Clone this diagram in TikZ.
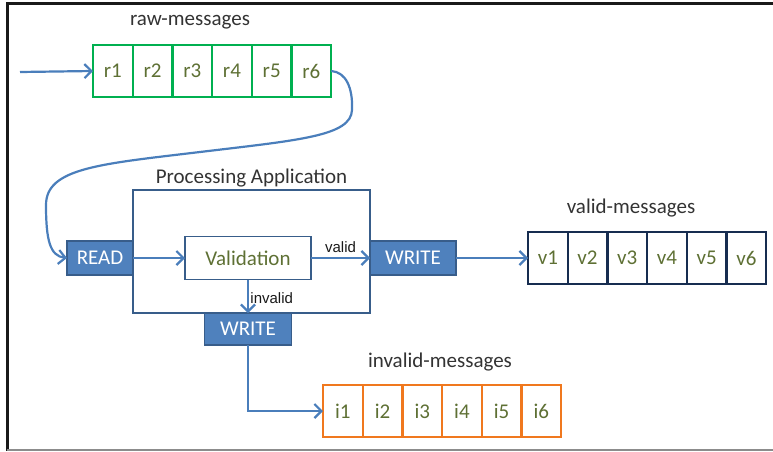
\documentclass[tikz,border=0pt]{standalone}
\usepackage{fontspec}
\setmainfont{Carlito}
\newfontfamily\labelfont{Liberation Sans}
\usepackage{tikz}
\usetikzlibrary{arrows.meta}
\usetikzlibrary{positioning}

\definecolor{rawgreen}{RGB}{0,176,80}
\definecolor{validnavy}{RGB}{23,45,80}
\definecolor{invorange}{RGB}{240,120,30}
\definecolor{cellolive}{RGB}{94,112,52}
\definecolor{flowblue}{RGB}{74,126,187}
\definecolor{stepfill}{RGB}{79,129,189}
\definecolor{stepedge}{RGB}{56,93,138}

\begin{document}
\begin{tikzpicture}[x=1pt, y=-1pt, node distance=4pt]
        \tikzstyle{cell} = [draw, line width=2.2pt, outer sep=0pt, minimum width=39.7pt, minimum height=52pt, inner sep=0pt, text=cellolive, font=\fontsize{21}{25}\selectfont];
        \tikzstyle{title} = [font=\fontsize{21}{25}\selectfont, text=black!80];
        \tikzstyle{stepbox} = [draw=stepedge, fill=stepfill, line width=1.6pt, outer sep=0pt, text=white, minimum height=34pt, font=\fontsize{21}{25}\selectfont];
        \tikzstyle{flow} = [draw=flowblue, line width=2.2pt, -{Straight Barb[length=7pt, width=14pt]}];
        \tikzstyle{small} = [font=\labelfont\fontsize{15}{18}\selectfont, text=black!90];

        \useasboundingbox (0,0) rectangle (773,452);
        % frame
        \draw[line width=3pt, black!90] (773,4) -- (7,4) -- (7,451);
        \draw[line width=2pt, black!45] (7,450) -- (773,450);

        % queues
        \foreach \i in {1,...,6} {
            \node[cell, draw=rawgreen] (r\i) at ({93+(\i-0.5)*39.7}, 71) {r\i};
            \node[cell, draw=validnavy] (v\i) at ({528+(\i-0.5)*39.7}, 258) {v\i};
            \node[cell, draw=invorange] (i\i) at ({323+(\i-0.5)*39.7}, 411) {i\i};
        }
        \node[title] (rawt) at (190,22) {raw-messages};
        \node[title] (validt) at (631,208) {valid-messages};
        \node[title] (invt) at (440,362) {invalid-messages};

        % application
        \node[draw=stepedge, line width=1.6pt, minimum width=237pt, minimum height=123pt, outer sep=0pt] (app) at (251.5,251.5) {};
        \node[title, above=-1pt of app] (appt) {Processing Application};
        \node[draw=stepedge, line width=1.6pt, minimum width=126pt, minimum height=43pt, outer sep=0pt, text=cellolive, font=\fontsize{21}{25}\selectfont] (check) at (248,258) {Validation};
        \node[stepbox, minimum width=66pt, left=0pt of app.west|-check] (read) {READ};
        \node[stepbox, minimum width=86pt, right=0pt of app.east|-check] (wok) {WRITE};
        \node[stepbox, minimum width=87pt, minimum height=32pt, below=0pt of app.south-|check] (wbad) {WRITE};

        % connectors
        \coordinate (src) at (20,72);
        \draw[flow] (src) -- (r1.west);
        \draw[flow] (r6.east) .. controls (346,72) and (353,88) .. (352,110)
            .. controls (351,136) and (300,140) .. (200,152)
            .. controls (100,164) and (46,168) .. (46,205)
            .. controls (46,240) and (50,256) .. (read.west);
        \draw[flow] (read) -- (check);
        \draw[flow] (check) -- node[small, above=1pt] {valid} (wok);
        \draw[flow] (wok) -- (v1.west);
        \draw[flow] (check) -- node[small, right=-2pt, pos=0.55] {invalid} (wbad);
        \draw[flow] (wbad) |- (i1.west);
    \end{tikzpicture}
\end{document}
